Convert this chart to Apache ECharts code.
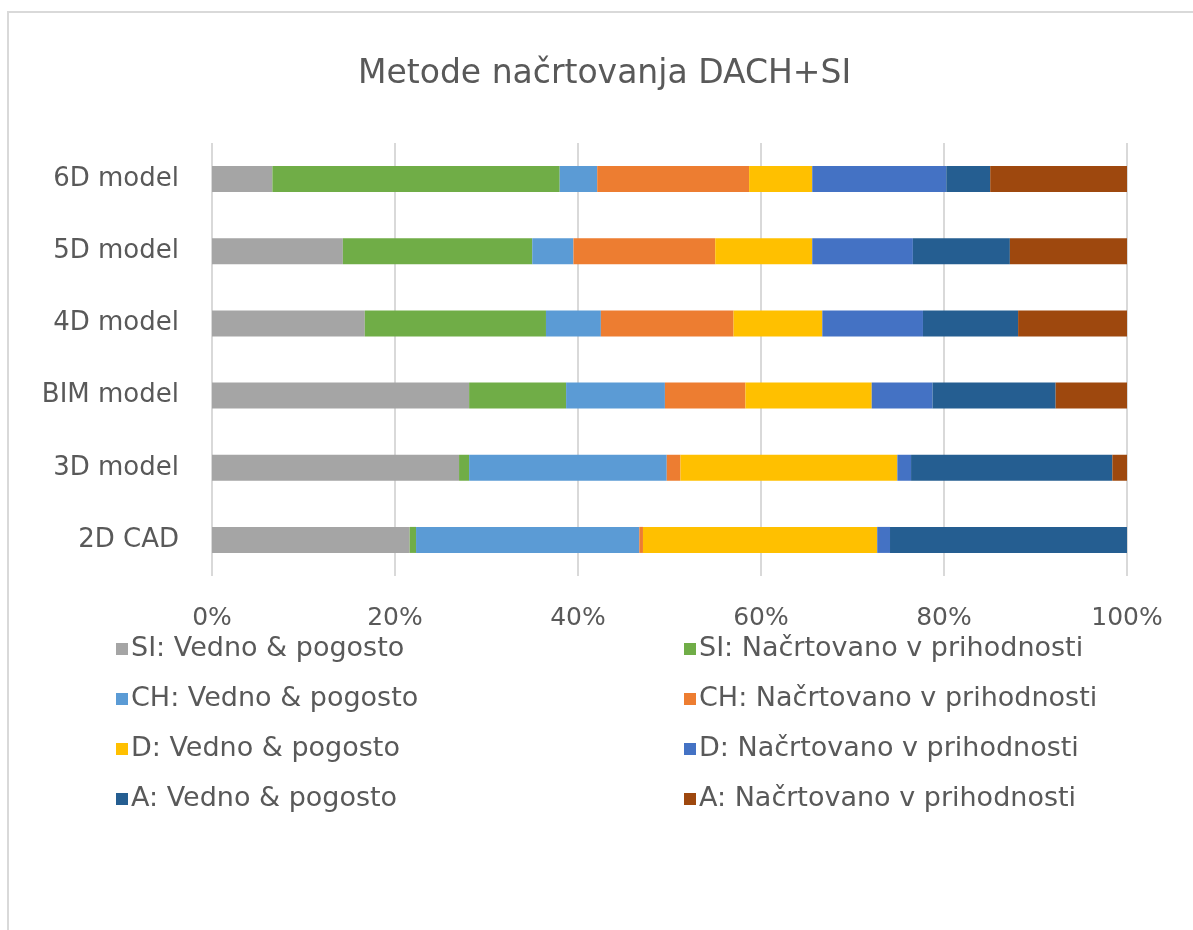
<!DOCTYPE html>
<html>
<head>
<meta charset="utf-8">
<script src="https://cdn.jsdelivr.net/npm/echarts@6/dist/echarts.min.js"></script>
<style>
  html, body { margin: 0; padding: 0; background: #fff; }
  #chart { width: 1193px; height: 930px; }
</style>
</head>
<body>
<div id="chart"></div>
<script>
// categories listed bottom -> top (ECharts category axis starts at the bottom)
const categories = ['2D CAD', '3D model', 'BIM model', '4D model', '5D model', '6D model']

const seriesNames = [
  'SI: Vedno & pogosto',
  'SI: Načrtovano v prihodnosti',
  'CH: Vedno & pogosto',
  'CH: Načrtovano v prihodnosti',
  'D: Vedno & pogosto',
  'D: Načrtovano v prihodnosti',
  'A: Vedno & pogosto',
  'A: Načrtovano v prihodnosti'
]

// shares in %
const siVedno = [21.6, 27.0, 28.1, 16.7, 14.3, 6.6]
const siNacrt = [0.7, 1.1, 10.6, 19.8, 20.7, 31.4]
const chVedno = [24.4, 21.6, 10.8, 6.0, 4.5, 4.1]
const chNacrt = [0.4, 1.5, 8.8, 14.5, 15.5, 16.6]
const dVedno = [25.6, 23.7, 13.8, 9.7, 10.6, 6.9]
const dNacrt = [1.4, 1.5, 6.65, 11.0, 11.0, 14.65]
const aVedno = [25.9, 22.0, 13.45, 10.4, 10.6, 4.8]
const aNacrt = [0, 1.6, 7.8, 11.9, 12.8, 14.95]

const seriesData = [siVedno, siNacrt, chVedno, chNacrt, dVedno, dNacrt, aVedno, aNacrt]

const colors = ['#a5a5a5', '#70ad47', '#5b9bd5', '#ed7d31', '#ffc000', '#4472c4', '#255e91', '#9e480e']

const FONT = '"DejaVu Sans", sans-serif'
const TEXT = '#595959'

const chart = echarts.init(document.getElementById('chart'))

const legendBase = {
  orient: 'vertical',
  icon: 'rect',
  itemWidth: 12,
  itemHeight: 12,
  itemGap: 20,
  top: 629,
  textStyle: { color: TEXT, fontSize: 27, fontFamily: FONT, lineHeight: 30, padding: [0, 0, 0, -2] }
}

chart.setOption({
  animation: false,
  color: colors,
  graphic: [{
    type: 'rect',
    shape: { x: 8, y: 12, width: 1300, height: 1000 },
    style: { fill: 'none', stroke: '#d9d9d9', lineWidth: 2 },
    silent: true
  }],
  title: {
    text: 'Metode načrtovanja DACH+SI',
    left: 353,
    top: 53,
    textStyle: { color: TEXT, fontSize: 33, fontWeight: 'normal', fontFamily: FONT }
  },
  legend: [
    Object.assign({}, legendBase, { left: 111, data: seriesNames.filter((_, i) => i % 2 === 0) }),
    Object.assign({}, legendBase, { left: 679, data: seriesNames.filter((_, i) => i % 2 === 1) })
  ],
  grid: { left: 212, right: 66, top: 143, bottom: 354 },
  xAxis: {
    type: 'value',
    min: 0,
    max: 100,
    interval: 20,
    axisLine: { show: false },
    axisTick: { show: false },
    axisLabel: { formatter: '{value}%', color: TEXT, fontSize: 25, fontFamily: FONT, margin: 30 },
    splitLine: { lineStyle: { color: '#d9d9d9', width: 2 } }
  },
  yAxis: {
    type: 'category',
    data: categories,
    axisLine: { show: false },
    axisTick: { show: false },
    axisLabel: { color: TEXT, fontSize: 26, fontFamily: FONT, margin: 33 }
  },
  series: seriesNames.map((name, i) => ({
    name,
    type: 'bar',
    stack: 'total',
    barWidth: 26,
    data: seriesData[i]
  }))
})
</script>
</body>
</html>
